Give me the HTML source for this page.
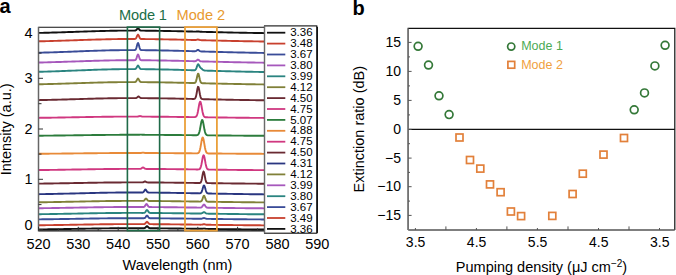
<!DOCTYPE html>
<html><head><meta charset="utf-8"><style>html,body{margin:0;padding:0;background:#fff;width:676px;height:275px;overflow:hidden;position:relative}</style></head>
<body>
<svg width="676" height="275" viewBox="0 0 676 275" style="position:absolute;left:0;top:0">
<rect width="676" height="275" fill="#fff"/>
<g font-family='"Liberation Sans", sans-serif'>
<text x="-0.6" y="12.9" font-size="20" font-weight="bold">a</text>
<text x="352.4" y="14.6" font-size="20" font-weight="bold">b</text>
<g fill="none" stroke-width="1.9" stroke-linejoin="round">
<path d="M38.5 32.92 L40.5 32.88 L42.5 32.83 L44.5 32.78 L46.5 32.73 L48.5 32.68 L50.5 32.62 L52.5 32.57 L54.5 32.51 L56.5 32.45 L58.5 32.39 L60.5 32.33 L62.5 32.27 L64.5 32.20 L66.5 32.14 L68.5 32.07 L70.5 32.00 L72.5 31.93 L74.5 31.86 L76.5 31.80 L78.5 31.73 L80.5 31.66 L82.5 31.59 L84.5 31.52 L86.5 31.46 L88.5 31.39 L90.5 31.33 L92.5 31.26 L94.5 31.20 L96.5 31.14 L98.5 31.09 L100.5 31.03 L102.5 30.98 L104.5 30.93 L106.5 30.88 L108.5 30.84 L110.5 30.80 L112.5 30.76 L114.5 30.73 L116.5 30.70 L118.5 30.67 L120.5 30.65 L122.5 30.63 L124.5 30.62 L126.5 30.61 L128.5 30.60 L130.5 30.60 L132.5 30.60 L133.0 30.60 L133.5 30.60 L134.0 30.60 L134.5 30.60 L135.0 30.57 L135.5 30.48 L136.0 30.25 L136.5 29.82 L137.0 29.22 L137.5 28.65 L138.0 28.42 L138.5 28.66 L139.0 29.23 L139.5 29.83 L140.0 30.27 L140.5 30.50 L141.0 30.60 L141.5 30.63 L142.0 30.64 L142.5 30.65 L143.0 30.65 L143.5 30.65 L144.0 30.66 L146.0 30.68 L148.0 30.70 L150.0 30.72 L152.0 30.74 L154.0 30.77 L156.0 30.80 L158.0 30.83 L160.0 30.86 L162.0 30.89 L164.0 30.93 L166.0 30.96 L168.0 31.00 L170.0 31.04 L172.0 31.09 L174.0 31.13 L176.0 31.17 L178.0 31.22 L180.0 31.26 L182.0 31.31 L184.0 31.36 L186.0 31.41 L188.0 31.46 L190.0 31.51 L190.5 31.52 L191.0 31.53 L191.5 31.54 L192.0 31.56 L192.5 31.57 L193.0 31.58 L193.5 31.60 L194.0 31.61 L194.5 31.62 L195.0 31.63 L195.5 31.62 L196.0 31.60 L196.5 31.55 L197.0 31.49 L197.5 31.43 L198.0 31.41 L198.5 31.45 L199.0 31.54 L199.5 31.63 L200.0 31.70 L200.5 31.75 L201.0 31.78 L201.5 31.80 L202.0 31.81 L202.5 31.83 L203.0 31.84 L203.5 31.85 L204.0 31.86 L204.5 31.88 L205.0 31.89 L205.5 31.90 L206.0 31.92 L206.5 31.93 L207.0 31.94 L207.5 31.95 L208.0 31.97 L210.0 32.02 L212.0 32.07 L214.0 32.12 L216.0 32.17 L218.0 32.22 L220.0 32.27 L222.0 32.31 L224.0 32.36 L226.0 32.41 L228.0 32.45 L230.0 32.50 L232.0 32.54 L234.0 32.58 L236.0 32.62 L238.0 32.67 L240.0 32.71 L242.0 32.74 L244.0 32.78 L246.0 32.82 L248.0 32.85 L250.0 32.89 L252.0 32.92 L254.0 32.96 L256.0 32.99 L258.0 33.02 L260.0 33.05 L262.0 33.07 L264.0 33.10 L266.0 33.13 L268.0 33.15 L270.0 33.18 L272.0 33.20 L274.0 33.22 L276.0 33.24 L278.0 33.26 L280.0 33.28 L282.0 33.30 L284.0 33.32 L286.0 33.34 L288.0 33.35 L290.0 33.37 L292.0 33.38 L294.0 33.40 L296.0 33.41 L298.0 33.42 L300.0 33.43 L302.0 33.44 L304.0 33.45 L306.0 33.46 L308.0 33.47 L310.0 33.48 L312.0 33.49 L314.0 33.50 L316.0 33.51" stroke="#111111"/>
<path d="M38.5 41.32 L40.5 41.28 L42.5 41.23 L44.5 41.18 L46.5 41.13 L48.5 41.08 L50.5 41.02 L52.5 40.97 L54.5 40.91 L56.5 40.85 L58.5 40.79 L60.5 40.73 L62.5 40.67 L64.5 40.60 L66.5 40.54 L68.5 40.47 L70.5 40.40 L72.5 40.33 L74.5 40.26 L76.5 40.20 L78.5 40.13 L80.5 40.06 L82.5 39.99 L84.5 39.92 L86.5 39.86 L88.5 39.79 L90.5 39.73 L92.5 39.66 L94.5 39.60 L96.5 39.54 L98.5 39.49 L100.5 39.43 L102.5 39.38 L104.5 39.33 L106.5 39.28 L108.5 39.24 L110.5 39.20 L112.5 39.16 L114.5 39.13 L116.5 39.10 L118.5 39.07 L120.5 39.05 L122.5 39.03 L124.5 39.02 L126.5 39.01 L128.5 39.00 L130.5 39.00 L132.5 39.00 L133.0 39.00 L133.5 39.00 L134.0 39.00 L134.5 38.99 L135.0 38.93 L135.5 38.75 L136.0 38.29 L136.5 37.43 L137.0 36.22 L137.5 35.09 L138.0 34.62 L138.5 35.09 L139.0 36.23 L139.5 37.44 L140.0 38.31 L140.5 38.77 L141.0 38.96 L141.5 39.02 L142.0 39.04 L142.5 39.05 L143.0 39.05 L143.5 39.05 L144.0 39.06 L146.0 39.08 L148.0 39.10 L150.0 39.12 L152.0 39.14 L154.0 39.17 L156.0 39.20 L158.0 39.23 L160.0 39.26 L162.0 39.29 L164.0 39.33 L166.0 39.36 L168.0 39.40 L170.0 39.44 L172.0 39.49 L174.0 39.53 L176.0 39.57 L178.0 39.62 L180.0 39.66 L182.0 39.71 L184.0 39.76 L186.0 39.81 L188.0 39.86 L190.0 39.91 L190.5 39.92 L191.0 39.93 L191.5 39.94 L192.0 39.96 L192.5 39.97 L193.0 39.98 L193.5 40.00 L194.0 40.01 L194.5 40.02 L195.0 40.02 L195.5 40.00 L196.0 39.94 L196.5 39.84 L197.0 39.69 L197.5 39.56 L198.0 39.51 L198.5 39.58 L199.0 39.74 L199.5 39.91 L200.0 40.05 L200.5 40.13 L201.0 40.17 L201.5 40.20 L202.0 40.21 L202.5 40.23 L203.0 40.24 L203.5 40.25 L204.0 40.26 L204.5 40.28 L205.0 40.29 L205.5 40.30 L206.0 40.32 L206.5 40.33 L207.0 40.34 L207.5 40.35 L208.0 40.37 L210.0 40.42 L212.0 40.47 L214.0 40.52 L216.0 40.57 L218.0 40.62 L220.0 40.67 L222.0 40.71 L224.0 40.76 L226.0 40.81 L228.0 40.85 L230.0 40.90 L232.0 40.94 L234.0 40.98 L236.0 41.02 L238.0 41.07 L240.0 41.11 L242.0 41.14 L244.0 41.18 L246.0 41.22 L248.0 41.25 L250.0 41.29 L252.0 41.32 L254.0 41.36 L256.0 41.39 L258.0 41.42 L260.0 41.45 L262.0 41.47 L264.0 41.50 L266.0 41.53 L268.0 41.55 L270.0 41.58 L272.0 41.60 L274.0 41.62 L276.0 41.64 L278.0 41.66 L280.0 41.68 L282.0 41.70 L284.0 41.72 L286.0 41.74 L288.0 41.75 L290.0 41.77 L292.0 41.78 L294.0 41.80 L296.0 41.81 L298.0 41.82 L300.0 41.83 L302.0 41.84 L304.0 41.85 L306.0 41.86 L308.0 41.87 L310.0 41.88 L312.0 41.89 L314.0 41.90 L316.0 41.91" stroke="#c8402e"/>
<path d="M38.5 52.73 L40.5 52.68 L42.5 52.63 L44.5 52.57 L46.5 52.52 L48.5 52.46 L50.5 52.39 L52.5 52.33 L54.5 52.27 L56.5 52.20 L58.5 52.13 L60.5 52.06 L62.5 51.99 L64.5 51.91 L66.5 51.84 L68.5 51.76 L70.5 51.69 L72.5 51.61 L74.5 51.53 L76.5 51.46 L78.5 51.38 L80.5 51.30 L82.5 51.22 L84.5 51.15 L86.5 51.07 L88.5 51.00 L90.5 50.92 L92.5 50.85 L94.5 50.78 L96.5 50.71 L98.5 50.65 L100.5 50.59 L102.5 50.53 L104.5 50.47 L106.5 50.42 L108.5 50.37 L110.5 50.32 L112.5 50.28 L114.5 50.24 L116.5 50.21 L118.5 50.18 L120.5 50.15 L122.5 50.13 L124.5 50.12 L126.5 50.11 L128.5 50.10 L130.5 50.10 L132.5 50.10 L133.0 50.10 L133.5 50.10 L134.0 50.10 L134.5 50.08 L135.0 49.99 L135.5 49.69 L136.0 48.94 L136.5 47.52 L137.0 45.54 L137.5 43.69 L138.0 42.92 L138.5 43.70 L139.0 45.55 L139.5 47.54 L140.0 48.96 L140.5 49.71 L141.0 50.02 L141.5 50.12 L142.0 50.14 L142.5 50.15 L143.0 50.16 L143.5 50.16 L144.0 50.17 L146.0 50.19 L148.0 50.21 L150.0 50.23 L152.0 50.26 L154.0 50.29 L156.0 50.32 L158.0 50.36 L160.0 50.39 L162.0 50.43 L164.0 50.47 L166.0 50.51 L168.0 50.56 L170.0 50.60 L172.0 50.65 L174.0 50.70 L176.0 50.75 L178.0 50.80 L180.0 50.85 L182.0 50.91 L184.0 50.96 L186.0 51.02 L188.0 51.07 L190.0 51.13 L190.5 51.14 L191.0 51.16 L191.5 51.17 L192.0 51.19 L192.5 51.20 L193.0 51.21 L193.5 51.23 L194.0 51.24 L194.5 51.25 L195.0 51.24 L195.5 51.17 L196.0 51.01 L196.5 50.72 L197.0 50.34 L197.5 49.99 L198.0 49.86 L198.5 50.02 L199.0 50.40 L199.5 50.81 L200.0 51.13 L200.5 51.32 L201.0 51.41 L201.5 51.45 L202.0 51.47 L202.5 51.49 L203.0 51.50 L203.5 51.52 L204.0 51.53 L204.5 51.55 L205.0 51.56 L205.5 51.58 L206.0 51.59 L206.5 51.61 L207.0 51.62 L207.5 51.64 L208.0 51.65 L210.0 51.71 L212.0 51.76 L214.0 51.82 L216.0 51.88 L218.0 51.93 L220.0 51.99 L222.0 52.04 L224.0 52.09 L226.0 52.15 L228.0 52.20 L230.0 52.25 L232.0 52.30 L234.0 52.35 L236.0 52.39 L238.0 52.44 L240.0 52.49 L242.0 52.53 L244.0 52.57 L246.0 52.61 L248.0 52.66 L250.0 52.69 L252.0 52.73 L254.0 52.77 L256.0 52.80 L258.0 52.84 L260.0 52.87 L262.0 52.90 L264.0 52.94 L266.0 52.97 L268.0 52.99 L270.0 53.02 L272.0 53.05 L274.0 53.07 L276.0 53.10 L278.0 53.12 L280.0 53.14 L282.0 53.16 L284.0 53.18 L286.0 53.20 L288.0 53.22 L290.0 53.24 L292.0 53.25 L294.0 53.27 L296.0 53.28 L298.0 53.30 L300.0 53.31 L302.0 53.32 L304.0 53.34 L306.0 53.35 L308.0 53.36 L310.0 53.37 L312.0 53.38 L314.0 53.38 L316.0 53.39" stroke="#3a4c98"/>
<path d="M38.5 62.52 L40.5 62.48 L42.5 62.43 L44.5 62.38 L46.5 62.33 L48.5 62.28 L50.5 62.22 L52.5 62.17 L54.5 62.11 L56.5 62.05 L58.5 61.99 L60.5 61.93 L62.5 61.87 L64.5 61.80 L66.5 61.74 L68.5 61.67 L70.5 61.60 L72.5 61.53 L74.5 61.46 L76.5 61.40 L78.5 61.33 L80.5 61.26 L82.5 61.19 L84.5 61.12 L86.5 61.06 L88.5 60.99 L90.5 60.93 L92.5 60.86 L94.5 60.80 L96.5 60.74 L98.5 60.69 L100.5 60.63 L102.5 60.58 L104.5 60.53 L106.5 60.48 L108.5 60.44 L110.5 60.40 L112.5 60.36 L114.5 60.33 L116.5 60.30 L118.5 60.27 L120.5 60.25 L122.5 60.23 L124.5 60.22 L126.5 60.21 L128.5 60.20 L130.5 60.20 L132.5 60.20 L133.0 60.20 L133.5 60.20 L134.0 60.20 L134.5 60.18 L135.0 60.11 L135.5 59.87 L136.0 59.27 L136.5 58.12 L137.0 56.53 L137.5 55.04 L138.0 54.42 L138.5 55.04 L139.0 56.54 L139.5 58.14 L140.0 59.28 L140.5 59.89 L141.0 60.14 L141.5 60.22 L142.0 60.24 L142.5 60.25 L143.0 60.25 L143.5 60.25 L144.0 60.26 L146.0 60.28 L148.0 60.30 L150.0 60.32 L152.0 60.34 L154.0 60.37 L156.0 60.40 L158.0 60.43 L160.0 60.46 L162.0 60.49 L164.0 60.53 L166.0 60.56 L168.0 60.60 L170.0 60.64 L172.0 60.69 L174.0 60.73 L176.0 60.77 L178.0 60.82 L180.0 60.86 L182.0 60.91 L184.0 60.96 L186.0 61.01 L188.0 61.06 L190.0 61.11 L190.5 61.12 L191.0 61.13 L191.5 61.14 L192.0 61.16 L192.5 61.17 L193.0 61.18 L193.5 61.20 L194.0 61.21 L194.5 61.21 L195.0 61.19 L195.5 61.12 L196.0 60.93 L196.5 60.60 L197.0 60.16 L197.5 59.76 L198.0 59.61 L198.5 59.79 L199.0 60.21 L199.5 60.68 L200.0 61.04 L200.5 61.25 L201.0 61.35 L201.5 61.39 L202.0 61.41 L202.5 61.43 L203.0 61.44 L203.5 61.45 L204.0 61.46 L204.5 61.48 L205.0 61.49 L205.5 61.50 L206.0 61.52 L206.5 61.53 L207.0 61.54 L207.5 61.55 L208.0 61.57 L210.0 61.62 L212.0 61.67 L214.0 61.72 L216.0 61.77 L218.0 61.82 L220.0 61.87 L222.0 61.91 L224.0 61.96 L226.0 62.01 L228.0 62.05 L230.0 62.10 L232.0 62.14 L234.0 62.18 L236.0 62.22 L238.0 62.27 L240.0 62.31 L242.0 62.34 L244.0 62.38 L246.0 62.42 L248.0 62.45 L250.0 62.49 L252.0 62.52 L254.0 62.56 L256.0 62.59 L258.0 62.62 L260.0 62.65 L262.0 62.67 L264.0 62.70 L266.0 62.73 L268.0 62.75 L270.0 62.78 L272.0 62.80 L274.0 62.82 L276.0 62.84 L278.0 62.86 L280.0 62.88 L282.0 62.90 L284.0 62.92 L286.0 62.94 L288.0 62.95 L290.0 62.97 L292.0 62.98 L294.0 63.00 L296.0 63.01 L298.0 63.02 L300.0 63.03 L302.0 63.04 L304.0 63.05 L306.0 63.06 L308.0 63.07 L310.0 63.08 L312.0 63.09 L314.0 63.10 L316.0 63.11" stroke="#a658bc"/>
<path d="M38.5 71.81 L40.5 71.76 L42.5 71.70 L44.5 71.65 L46.5 71.59 L48.5 71.53 L50.5 71.46 L52.5 71.40 L54.5 71.33 L56.5 71.26 L58.5 71.19 L60.5 71.12 L62.5 71.04 L64.5 70.97 L66.5 70.89 L68.5 70.81 L70.5 70.73 L72.5 70.66 L74.5 70.58 L76.5 70.50 L78.5 70.42 L80.5 70.34 L82.5 70.26 L84.5 70.18 L86.5 70.10 L88.5 70.02 L90.5 69.95 L92.5 69.87 L94.5 69.80 L96.5 69.73 L98.5 69.67 L100.5 69.60 L102.5 69.54 L104.5 69.48 L106.5 69.43 L108.5 69.38 L110.5 69.33 L112.5 69.29 L114.5 69.25 L116.5 69.21 L118.5 69.18 L120.5 69.16 L122.5 69.13 L124.5 69.12 L126.5 69.11 L128.5 69.10 L130.5 69.10 L132.5 69.10 L133.0 69.10 L133.5 69.10 L134.0 69.10 L134.5 69.09 L135.0 69.05 L135.5 68.90 L136.0 68.53 L136.5 67.82 L137.0 66.83 L137.5 65.91 L138.0 65.52 L138.5 65.91 L139.0 66.84 L139.5 67.83 L140.0 68.55 L140.5 68.93 L141.0 69.08 L141.5 69.13 L142.0 69.15 L142.5 69.15 L143.0 69.16 L143.5 69.16 L144.0 69.17 L146.0 69.19 L148.0 69.21 L150.0 69.24 L152.0 69.27 L154.0 69.30 L156.0 69.33 L158.0 69.36 L160.0 69.40 L162.0 69.44 L164.0 69.48 L166.0 69.53 L168.0 69.57 L170.0 69.62 L172.0 69.67 L174.0 69.72 L176.0 69.77 L178.0 69.82 L180.0 69.87 L182.0 69.93 L184.0 69.99 L186.0 70.04 L188.0 70.10 L190.0 70.16 L190.5 70.17 L191.0 70.19 L191.5 70.20 L192.0 70.22 L192.5 70.23 L193.0 70.25 L193.5 70.26 L194.0 70.26 L194.5 70.24 L195.0 70.11 L195.5 69.78 L196.0 69.07 L196.5 67.88 L197.0 66.35 L197.5 64.95 L198.0 64.21 L198.5 64.39 L199.0 65.25 L199.5 66.31 L200.0 67.17 L200.5 67.75 L201.0 68.17 L201.5 68.57 L202.0 69.00 L202.5 69.44 L203.0 69.83 L203.5 70.14 L204.0 70.35 L204.5 70.48 L205.0 70.56 L205.5 70.60 L206.0 70.63 L206.5 70.65 L207.0 70.66 L207.5 70.68 L208.0 70.70 L210.0 70.75 L212.0 70.81 L214.0 70.87 L216.0 70.93 L218.0 70.99 L220.0 71.04 L222.0 71.10 L224.0 71.15 L226.0 71.21 L228.0 71.26 L230.0 71.31 L232.0 71.36 L234.0 71.41 L236.0 71.46 L238.0 71.51 L240.0 71.56 L242.0 71.60 L244.0 71.65 L246.0 71.69 L248.0 71.73 L250.0 71.77 L252.0 71.81 L254.0 71.85 L256.0 71.88 L258.0 71.92 L260.0 71.95 L262.0 71.99 L264.0 72.02 L266.0 72.05 L268.0 72.08 L270.0 72.11 L272.0 72.13 L274.0 72.16 L276.0 72.18 L278.0 72.21 L280.0 72.23 L282.0 72.25 L284.0 72.27 L286.0 72.29 L288.0 72.31 L290.0 72.33 L292.0 72.35 L294.0 72.36 L296.0 72.38 L298.0 72.39 L300.0 72.41 L302.0 72.42 L304.0 72.43 L306.0 72.44 L308.0 72.45 L310.0 72.46 L312.0 72.47 L314.0 72.48 L316.0 72.49" stroke="#2a8480"/>
<path d="M38.5 84.27 L40.5 84.23 L42.5 84.18 L44.5 84.14 L46.5 84.09 L48.5 84.04 L50.5 83.99 L52.5 83.94 L54.5 83.88 L56.5 83.83 L58.5 83.77 L60.5 83.71 L62.5 83.65 L64.5 83.59 L66.5 83.53 L68.5 83.47 L70.5 83.41 L72.5 83.34 L74.5 83.28 L76.5 83.22 L78.5 83.15 L80.5 83.09 L82.5 83.03 L84.5 82.96 L86.5 82.90 L88.5 82.84 L90.5 82.78 L92.5 82.72 L94.5 82.66 L96.5 82.61 L98.5 82.55 L100.5 82.50 L102.5 82.45 L104.5 82.41 L106.5 82.36 L108.5 82.32 L110.5 82.28 L112.5 82.25 L114.5 82.22 L116.5 82.19 L118.5 82.17 L120.5 82.14 L122.5 82.13 L124.5 82.12 L126.5 82.11 L128.5 82.10 L130.5 82.10 L132.5 82.10 L133.0 82.10 L133.5 82.10 L134.0 82.10 L134.5 82.09 L135.0 82.05 L135.5 81.90 L136.0 81.52 L136.5 80.81 L137.0 79.83 L137.5 78.90 L138.0 78.52 L138.5 78.91 L139.0 79.84 L139.5 80.83 L140.0 81.54 L140.5 81.92 L141.0 82.07 L141.5 82.12 L142.0 82.14 L142.5 82.14 L143.0 82.15 L143.5 82.15 L144.0 82.15 L146.0 82.17 L148.0 82.19 L150.0 82.21 L152.0 82.23 L154.0 82.26 L156.0 82.28 L158.0 82.31 L160.0 82.34 L162.0 82.37 L164.0 82.41 L166.0 82.44 L168.0 82.48 L170.0 82.51 L172.0 82.55 L174.0 82.59 L176.0 82.63 L178.0 82.68 L180.0 82.72 L182.0 82.76 L184.0 82.81 L186.0 82.85 L188.0 82.90 L190.0 82.95 L190.5 82.96 L191.0 82.97 L191.5 82.98 L192.0 82.99 L192.5 83.01 L193.0 83.02 L193.5 83.02 L194.0 83.02 L194.5 82.97 L195.0 82.79 L195.5 82.31 L196.0 81.30 L196.5 79.58 L197.0 77.29 L197.5 75.03 L198.0 73.67 L198.5 73.84 L199.0 75.47 L199.5 77.83 L200.0 80.07 L200.5 81.67 L201.0 82.58 L201.5 83.00 L202.0 83.17 L202.5 83.23 L203.0 83.25 L203.5 83.27 L204.0 83.28 L204.5 83.29 L205.0 83.30 L205.5 83.32 L206.0 83.33 L206.5 83.34 L207.0 83.35 L207.5 83.36 L208.0 83.38 L208.5 83.39 L210.5 83.44 L212.5 83.48 L214.5 83.53 L216.5 83.58 L218.5 83.62 L220.5 83.67 L222.5 83.71 L224.5 83.75 L226.5 83.80 L228.5 83.84 L230.5 83.88 L232.5 83.92 L234.5 83.96 L236.5 84.00 L238.5 84.04 L240.5 84.07 L242.5 84.11 L244.5 84.15 L246.5 84.18 L248.5 84.21 L250.5 84.24 L252.5 84.28 L254.5 84.31 L256.5 84.33 L258.5 84.36 L260.5 84.39 L262.5 84.42 L264.5 84.44 L266.5 84.47 L268.5 84.49 L270.5 84.51 L272.5 84.53 L274.5 84.55 L276.5 84.57 L278.5 84.59 L280.5 84.61 L282.5 84.63 L284.5 84.64 L286.5 84.66 L288.5 84.67 L290.5 84.69 L292.5 84.70 L294.5 84.71 L296.5 84.72 L298.5 84.74 L300.5 84.75 L302.5 84.76 L304.5 84.77 L306.5 84.78 L308.5 84.78 L310.5 84.79 L312.5 84.80 L314.5 84.81 L316.5 84.81" stroke="#808038"/>
<path d="M38.5 100.11 L40.5 100.07 L42.5 100.03 L44.5 99.99 L46.5 99.95 L48.5 99.90 L50.5 99.85 L52.5 99.81 L54.5 99.76 L56.5 99.70 L58.5 99.65 L60.5 99.60 L62.5 99.54 L64.5 99.49 L66.5 99.43 L68.5 99.37 L70.5 99.31 L72.5 99.26 L74.5 99.20 L76.5 99.14 L78.5 99.08 L80.5 99.02 L82.5 98.96 L84.5 98.90 L86.5 98.84 L88.5 98.79 L90.5 98.73 L92.5 98.68 L94.5 98.62 L96.5 98.57 L98.5 98.52 L100.5 98.47 L102.5 98.43 L104.5 98.38 L106.5 98.34 L108.5 98.31 L110.5 98.27 L112.5 98.24 L114.5 98.21 L116.5 98.18 L118.5 98.16 L120.5 98.14 L122.5 98.13 L124.5 98.11 L126.5 98.11 L128.5 98.10 L130.5 98.10 L132.5 98.10 L134.5 98.10 L135.0 98.10 L135.5 98.08 L136.0 98.02 L136.5 97.85 L137.0 97.54 L137.5 97.10 L138.0 96.69 L138.5 96.52 L139.0 96.69 L139.5 97.11 L140.0 97.55 L140.5 97.87 L141.0 98.04 L141.5 98.11 L142.0 98.13 L142.5 98.14 L143.0 98.14 L143.5 98.15 L144.0 98.15 L144.5 98.15 L146.5 98.17 L148.5 98.19 L150.5 98.21 L152.5 98.23 L154.5 98.25 L156.5 98.28 L158.5 98.30 L160.5 98.33 L162.5 98.36 L164.5 98.39 L166.5 98.42 L168.5 98.46 L170.5 98.49 L172.5 98.53 L174.5 98.57 L176.5 98.61 L178.5 98.64 L180.5 98.69 L182.5 98.73 L184.5 98.77 L186.5 98.81 L188.5 98.85 L189.0 98.86 L189.5 98.88 L190.0 98.89 L190.5 98.90 L191.0 98.91 L191.5 98.92 L192.0 98.93 L192.5 98.94 L193.0 98.95 L193.5 98.95 L194.0 98.93 L194.5 98.83 L195.0 98.53 L195.5 97.80 L196.0 96.38 L196.5 94.11 L197.0 91.22 L197.5 88.45 L198.0 86.82 L198.5 87.03 L199.0 88.98 L199.5 91.88 L200.0 94.71 L200.5 96.84 L201.0 98.12 L201.5 98.76 L202.0 99.03 L202.5 99.13 L203.0 99.17 L203.5 99.18 L204.0 99.20 L204.5 99.21 L205.0 99.22 L205.5 99.23 L206.0 99.24 L206.5 99.25 L207.0 99.26 L207.5 99.27 L208.0 99.29 L208.5 99.30 L210.5 99.34 L212.5 99.38 L214.5 99.43 L216.5 99.47 L218.5 99.51 L220.5 99.55 L222.5 99.59 L224.5 99.64 L226.5 99.68 L228.5 99.71 L230.5 99.75 L232.5 99.79 L234.5 99.83 L236.5 99.86 L238.5 99.90 L240.5 99.93 L242.5 99.97 L244.5 100.00 L246.5 100.03 L248.5 100.06 L250.5 100.09 L252.5 100.12 L254.5 100.15 L256.5 100.18 L258.5 100.20 L260.5 100.23 L262.5 100.25 L264.5 100.27 L266.5 100.30 L268.5 100.32 L270.5 100.34 L272.5 100.36 L274.5 100.38 L276.5 100.40 L278.5 100.41 L280.5 100.43 L282.5 100.45 L284.5 100.46 L286.5 100.48 L288.5 100.49 L290.5 100.50 L292.5 100.51 L294.5 100.53 L296.5 100.54 L298.5 100.55 L300.5 100.56 L302.5 100.57 L304.5 100.58 L306.5 100.58 L308.5 100.59 L310.5 100.60 L312.5 100.61 L314.5 100.61 L316.5 100.62" stroke="#6a2a32"/>
<path d="M38.5 117.84 L40.5 117.81 L42.5 117.79 L44.5 117.76 L46.5 117.74 L48.5 117.71 L50.5 117.68 L52.5 117.65 L54.5 117.62 L56.5 117.59 L58.5 117.56 L60.5 117.52 L62.5 117.49 L64.5 117.45 L66.5 117.42 L68.5 117.38 L70.5 117.35 L72.5 117.31 L74.5 117.27 L76.5 117.24 L78.5 117.20 L80.5 117.16 L82.5 117.13 L84.5 117.09 L86.5 117.06 L88.5 117.02 L90.5 116.99 L92.5 116.95 L94.5 116.92 L96.5 116.89 L98.5 116.86 L100.5 116.83 L102.5 116.80 L104.5 116.77 L106.5 116.75 L108.5 116.73 L110.5 116.70 L112.5 116.68 L114.5 116.67 L116.5 116.65 L118.5 116.64 L120.5 116.63 L122.5 116.62 L124.5 116.61 L126.5 116.60 L128.5 116.60 L130.5 116.60 L132.5 116.60 L134.5 116.60 L135.0 116.60 L135.5 116.60 L136.0 116.61 L136.5 116.60 L137.0 116.60 L137.5 116.57 L138.0 116.51 L138.5 116.40 L139.0 116.23 L139.5 116.08 L140.0 116.02 L140.5 116.08 L141.0 116.24 L141.5 116.40 L142.0 116.53 L142.5 116.59 L143.0 116.62 L143.5 116.63 L144.0 116.63 L144.5 116.63 L145.0 116.64 L145.5 116.64 L146.0 116.64 L148.0 116.65 L150.0 116.66 L152.0 116.68 L154.0 116.69 L156.0 116.70 L158.0 116.72 L160.0 116.74 L162.0 116.76 L164.0 116.77 L166.0 116.79 L168.0 116.82 L170.0 116.84 L172.0 116.86 L174.0 116.88 L176.0 116.91 L178.0 116.93 L180.0 116.95 L182.0 116.98 L184.0 117.00 L186.0 117.03 L188.0 117.06 L190.0 117.08 L192.0 117.11 L192.5 117.12 L193.0 117.12 L193.5 117.13 L194.0 117.13 L194.5 117.12 L195.0 117.07 L195.5 116.95 L196.0 116.67 L196.5 116.10 L197.0 115.07 L197.5 113.43 L198.0 111.13 L198.5 108.33 L199.0 105.43 L199.5 103.04 L200.0 101.74 L200.5 101.90 L201.0 103.47 L201.5 106.03 L202.0 108.96 L202.5 111.70 L203.0 113.89 L203.5 115.41 L204.0 116.35 L204.5 116.86 L205.0 117.12 L205.5 117.23 L206.0 117.28 L206.5 117.30 L207.0 117.31 L207.5 117.32 L208.0 117.33 L208.5 117.34 L209.0 117.34 L209.5 117.35 L210.0 117.36 L210.5 117.36 L212.5 117.39 L214.5 117.42 L216.5 117.44 L218.5 117.47 L220.5 117.49 L222.5 117.52 L224.5 117.54 L226.5 117.57 L228.5 117.59 L230.5 117.62 L232.5 117.64 L234.5 117.66 L236.5 117.69 L238.5 117.71 L240.5 117.73 L242.5 117.75 L244.5 117.77 L246.5 117.79 L248.5 117.81 L250.5 117.83 L252.5 117.84 L254.5 117.86 L256.5 117.88 L258.5 117.89 L260.5 117.91 L262.5 117.92 L264.5 117.94 L266.5 117.95 L268.5 117.97 L270.5 117.98 L272.5 117.99 L274.5 118.00 L276.5 118.01 L278.5 118.02 L280.5 118.03 L282.5 118.04 L284.5 118.05 L286.5 118.06 L288.5 118.07 L290.5 118.08 L292.5 118.09 L294.5 118.09 L296.5 118.10 L298.5 118.11 L300.5 118.11 L302.5 118.12 L304.5 118.12 L306.5 118.13 L308.5 118.13 L310.5 118.14 L312.5 118.14 L314.5 118.15 L316.5 118.15" stroke="#d03880"/>
<path d="M38.5 135.73 L40.5 135.71 L42.5 135.69 L44.5 135.67 L46.5 135.65 L48.5 135.63 L50.5 135.61 L52.5 135.59 L54.5 135.56 L56.5 135.54 L58.5 135.52 L60.5 135.49 L62.5 135.47 L64.5 135.44 L66.5 135.41 L68.5 135.39 L70.5 135.36 L72.5 135.33 L74.5 135.31 L76.5 135.28 L78.5 135.25 L80.5 135.22 L82.5 135.20 L84.5 135.17 L86.5 135.14 L88.5 135.12 L90.5 135.09 L92.5 135.07 L94.5 135.04 L96.5 135.02 L98.5 134.99 L100.5 134.97 L102.5 134.95 L104.5 134.93 L106.5 134.91 L108.5 134.89 L110.5 134.88 L112.5 134.86 L114.5 134.85 L116.5 134.84 L118.5 134.83 L120.5 134.82 L122.5 134.81 L124.5 134.81 L126.5 134.80 L128.5 134.80 L130.5 134.80 L132.5 134.80 L134.5 134.80 L136.5 134.81 L137.0 134.81 L137.5 134.81 L138.0 134.80 L138.5 134.80 L139.0 134.78 L139.5 134.74 L140.0 134.68 L140.5 134.63 L141.0 134.61 L141.5 134.64 L142.0 134.69 L142.5 134.75 L143.0 134.79 L143.5 134.81 L144.0 134.82 L144.5 134.82 L145.0 134.83 L145.5 134.83 L146.0 134.83 L146.5 134.83 L147.0 134.83 L149.0 134.84 L151.0 134.85 L153.0 134.86 L155.0 134.87 L157.0 134.88 L159.0 134.90 L161.0 134.91 L163.0 134.92 L165.0 134.94 L167.0 134.95 L169.0 134.97 L171.0 134.99 L173.0 135.00 L175.0 135.02 L177.0 135.04 L179.0 135.06 L181.0 135.07 L183.0 135.09 L185.0 135.11 L187.0 135.13 L189.0 135.15 L191.0 135.17 L193.0 135.19 L193.5 135.20 L194.0 135.20 L194.5 135.21 L195.0 135.21 L195.5 135.22 L196.0 135.22 L196.5 135.20 L197.0 135.16 L197.5 135.03 L198.0 134.75 L198.5 134.19 L199.0 133.17 L199.5 131.55 L200.0 129.28 L200.5 126.51 L201.0 123.65 L201.5 121.29 L202.0 120.01 L202.5 120.16 L203.0 121.71 L203.5 124.23 L204.0 127.13 L204.5 129.83 L205.0 131.99 L205.5 133.49 L206.0 134.41 L206.5 134.92 L207.0 135.17 L207.5 135.28 L208.0 135.33 L208.5 135.35 L209.0 135.36 L209.5 135.36 L210.0 135.37 L210.5 135.37 L211.0 135.38 L211.5 135.38 L212.0 135.39 L212.5 135.39 L214.5 135.41 L216.5 135.43 L218.5 135.45 L220.5 135.47 L222.5 135.49 L224.5 135.51 L226.5 135.53 L228.5 135.55 L230.5 135.56 L232.5 135.58 L234.5 135.60 L236.5 135.61 L238.5 135.63 L240.5 135.65 L242.5 135.66 L244.5 135.68 L246.5 135.69 L248.5 135.71 L250.5 135.72 L252.5 135.73 L254.5 135.75 L256.5 135.76 L258.5 135.77 L260.5 135.78 L262.5 135.79 L264.5 135.80 L266.5 135.81 L268.5 135.82 L270.5 135.83 L272.5 135.84 L274.5 135.85 L276.5 135.86 L278.5 135.87 L280.5 135.88 L282.5 135.88 L284.5 135.89 L286.5 135.90 L288.5 135.90 L290.5 135.91 L292.5 135.91 L294.5 135.92 L296.5 135.92 L298.5 135.93 L300.5 135.93 L302.5 135.94 L304.5 135.94 L306.5 135.95 L308.5 135.95 L310.5 135.95 L312.5 135.96 L314.5 135.96 L316.5 135.96" stroke="#2c7c3c"/>
<path d="M38.5 153.77 L40.5 153.76 L42.5 153.74 L44.5 153.73 L46.5 153.71 L48.5 153.69 L50.5 153.67 L52.5 153.66 L54.5 153.64 L56.5 153.62 L58.5 153.60 L60.5 153.58 L62.5 153.56 L64.5 153.53 L66.5 153.51 L68.5 153.49 L70.5 153.47 L72.5 153.44 L74.5 153.42 L76.5 153.40 L78.5 153.38 L80.5 153.35 L82.5 153.33 L84.5 153.31 L86.5 153.29 L88.5 153.26 L90.5 153.24 L92.5 153.22 L94.5 153.20 L96.5 153.18 L98.5 153.16 L100.5 153.14 L102.5 153.13 L104.5 153.11 L106.5 153.09 L108.5 153.08 L110.5 153.07 L112.5 153.05 L114.5 153.04 L116.5 153.03 L118.5 153.02 L120.5 153.02 L122.5 153.01 L124.5 153.01 L126.5 153.00 L128.5 153.00 L130.5 153.00 L132.5 153.00 L134.5 153.00 L136.5 153.00 L138.5 153.01 L139.0 153.01 L139.5 153.01 L140.0 153.00 L140.5 152.99 L141.0 152.95 L141.5 152.87 L142.0 152.76 L142.5 152.66 L143.0 152.62 L143.5 152.66 L144.0 152.77 L144.5 152.88 L145.0 152.96 L145.5 153.00 L146.0 153.02 L146.5 153.03 L147.0 153.03 L147.5 153.03 L148.0 153.03 L148.5 153.03 L149.0 153.04 L151.0 153.04 L153.0 153.05 L155.0 153.06 L157.0 153.07 L159.0 153.08 L161.0 153.09 L163.0 153.10 L165.0 153.12 L167.0 153.13 L169.0 153.14 L171.0 153.15 L173.0 153.17 L175.0 153.18 L177.0 153.20 L179.0 153.21 L181.0 153.23 L183.0 153.24 L185.0 153.26 L187.0 153.28 L189.0 153.29 L191.0 153.31 L193.0 153.33 L193.5 153.33 L194.0 153.34 L194.5 153.34 L195.0 153.34 L195.5 153.35 L196.0 153.35 L196.5 153.35 L197.0 153.33 L197.5 153.28 L198.0 153.16 L198.5 152.86 L199.0 152.27 L199.5 151.22 L200.0 149.53 L200.5 147.17 L201.0 144.30 L201.5 141.32 L202.0 138.86 L202.5 137.53 L203.0 137.69 L203.5 139.30 L204.0 141.92 L204.5 144.93 L205.0 147.74 L205.5 149.97 L206.0 151.53 L206.5 152.49 L207.0 153.02 L207.5 153.27 L208.0 153.39 L208.5 153.44 L209.0 153.46 L209.5 153.47 L210.0 153.47 L210.5 153.48 L211.0 153.48 L211.5 153.49 L212.0 153.49 L212.5 153.49 L213.0 153.50 L215.0 153.51 L217.0 153.53 L219.0 153.55 L221.0 153.56 L223.0 153.58 L225.0 153.59 L227.0 153.61 L229.0 153.62 L231.0 153.64 L233.0 153.65 L235.0 153.67 L237.0 153.68 L239.0 153.70 L241.0 153.71 L243.0 153.72 L245.0 153.73 L247.0 153.75 L249.0 153.76 L251.0 153.77 L253.0 153.78 L255.0 153.79 L257.0 153.80 L259.0 153.81 L261.0 153.82 L263.0 153.83 L265.0 153.84 L267.0 153.85 L269.0 153.86 L271.0 153.86 L273.0 153.87 L275.0 153.88 L277.0 153.88 L279.0 153.89 L281.0 153.90 L283.0 153.90 L285.0 153.91 L287.0 153.91 L289.0 153.92 L291.0 153.93 L293.0 153.93 L295.0 153.93 L297.0 153.94 L299.0 153.94 L301.0 153.95 L303.0 153.95 L305.0 153.95 L307.0 153.96 L309.0 153.96 L311.0 153.96 L313.0 153.96 L315.0 153.97 L317.0 153.97" stroke="#e88a38"/>
<path d="M38.5 170.06 L40.5 170.04 L42.5 170.02 L44.5 169.99 L46.5 169.97 L48.5 169.94 L50.5 169.91 L52.5 169.88 L54.5 169.86 L56.5 169.83 L58.5 169.80 L60.5 169.76 L62.5 169.73 L64.5 169.70 L66.5 169.67 L68.5 169.63 L70.5 169.60 L72.5 169.57 L74.5 169.53 L76.5 169.50 L78.5 169.46 L80.5 169.43 L82.5 169.40 L84.5 169.36 L86.5 169.33 L88.5 169.30 L90.5 169.26 L92.5 169.23 L94.5 169.20 L96.5 169.17 L98.5 169.14 L100.5 169.12 L102.5 169.09 L104.5 169.06 L106.5 169.04 L108.5 169.02 L110.5 169.00 L112.5 168.98 L114.5 168.96 L116.5 168.95 L118.5 168.93 L120.5 168.92 L122.5 168.91 L124.5 168.91 L126.5 168.90 L128.5 168.90 L130.5 168.90 L132.5 168.90 L134.5 168.90 L136.5 168.91 L138.5 168.91 L139.0 168.91 L139.5 168.91 L140.0 168.89 L140.5 168.83 L141.0 168.67 L141.5 168.38 L142.0 167.97 L142.5 167.58 L143.0 167.43 L143.5 167.59 L144.0 167.98 L144.5 168.39 L145.0 168.69 L145.5 168.85 L146.0 168.91 L146.5 168.93 L147.0 168.94 L147.5 168.95 L148.0 168.95 L148.5 168.95 L149.0 168.95 L151.0 168.96 L153.0 168.98 L155.0 168.99 L157.0 169.01 L159.0 169.02 L161.0 169.04 L163.0 169.05 L165.0 169.07 L167.0 169.09 L169.0 169.11 L171.0 169.13 L173.0 169.15 L175.0 169.17 L177.0 169.20 L179.0 169.22 L181.0 169.24 L183.0 169.27 L185.0 169.29 L187.0 169.32 L189.0 169.34 L191.0 169.37 L193.0 169.39 L195.0 169.42 L195.5 169.42 L196.0 169.43 L196.5 169.44 L197.0 169.44 L197.5 169.45 L198.0 169.44 L198.5 169.42 L199.0 169.34 L199.5 169.13 L200.0 168.68 L200.5 167.80 L201.0 166.31 L201.5 164.13 L202.0 161.41 L202.5 158.58 L203.0 156.32 L203.5 155.26 L204.0 155.73 L204.5 157.59 L205.0 160.29 L205.5 163.14 L206.0 165.58 L206.5 167.36 L207.0 168.48 L207.5 169.09 L208.0 169.39 L208.5 169.52 L209.0 169.57 L209.5 169.60 L210.0 169.61 L210.5 169.62 L211.0 169.62 L211.5 169.63 L212.0 169.63 L212.5 169.64 L213.0 169.65 L213.5 169.65 L214.0 169.66 L216.0 169.68 L218.0 169.71 L220.0 169.73 L222.0 169.76 L224.0 169.78 L226.0 169.80 L228.0 169.83 L230.0 169.85 L232.0 169.87 L234.0 169.89 L236.0 169.91 L238.0 169.93 L240.0 169.95 L242.0 169.97 L244.0 169.99 L246.0 170.01 L248.0 170.03 L250.0 170.04 L252.0 170.06 L254.0 170.08 L256.0 170.09 L258.0 170.11 L260.0 170.12 L262.0 170.14 L264.0 170.15 L266.0 170.16 L268.0 170.18 L270.0 170.19 L272.0 170.20 L274.0 170.21 L276.0 170.22 L278.0 170.23 L280.0 170.24 L282.0 170.25 L284.0 170.26 L286.0 170.27 L288.0 170.28 L290.0 170.28 L292.0 170.29 L294.0 170.30 L296.0 170.30 L298.0 170.31 L300.0 170.32 L302.0 170.32 L304.0 170.33 L306.0 170.33 L308.0 170.34 L310.0 170.34 L312.0 170.35 L314.0 170.35 L316.0 170.35" stroke="#d03880"/>
<path d="M38.5 183.64 L40.5 183.61 L42.5 183.59 L44.5 183.56 L46.5 183.54 L48.5 183.51 L50.5 183.48 L52.5 183.45 L54.5 183.42 L56.5 183.39 L58.5 183.36 L60.5 183.32 L62.5 183.29 L64.5 183.25 L66.5 183.22 L68.5 183.18 L70.5 183.15 L72.5 183.11 L74.5 183.07 L76.5 183.04 L78.5 183.00 L80.5 182.96 L82.5 182.93 L84.5 182.89 L86.5 182.86 L88.5 182.82 L90.5 182.79 L92.5 182.75 L94.5 182.72 L96.5 182.69 L98.5 182.66 L100.5 182.63 L102.5 182.60 L104.5 182.57 L106.5 182.55 L108.5 182.53 L110.5 182.50 L112.5 182.48 L114.5 182.47 L116.5 182.45 L118.5 182.44 L120.5 182.43 L122.5 182.42 L124.5 182.41 L126.5 182.40 L128.5 182.40 L130.5 182.40 L132.5 182.40 L134.5 182.40 L136.5 182.41 L138.5 182.41 L140.5 182.42 L141.0 182.42 L141.5 182.42 L142.0 182.41 L142.5 182.37 L143.0 182.26 L143.5 182.07 L144.0 181.80 L144.5 181.54 L145.0 181.44 L145.5 181.55 L146.0 181.81 L146.5 182.08 L147.0 182.28 L147.5 182.39 L148.0 182.43 L148.5 182.45 L149.0 182.46 L149.5 182.46 L150.0 182.46 L150.5 182.47 L151.0 182.47 L153.0 182.48 L155.0 182.50 L157.0 182.51 L159.0 182.53 L161.0 182.55 L163.0 182.57 L165.0 182.58 L167.0 182.60 L169.0 182.63 L171.0 182.65 L173.0 182.67 L175.0 182.69 L177.0 182.72 L179.0 182.74 L181.0 182.77 L183.0 182.79 L185.0 182.82 L187.0 182.84 L189.0 182.87 L191.0 182.90 L193.0 182.92 L195.0 182.95 L195.5 182.96 L196.0 182.96 L196.5 182.97 L197.0 182.98 L197.5 182.99 L198.0 182.99 L198.5 183.00 L199.0 183.00 L199.5 182.98 L200.0 182.89 L200.5 182.61 L201.0 181.92 L201.5 180.53 L202.0 178.28 L202.5 175.43 L203.0 172.82 L203.5 171.51 L204.0 172.10 L204.5 174.33 L205.0 177.21 L205.5 179.78 L206.0 181.53 L206.5 182.48 L207.0 182.91 L207.5 183.06 L208.0 183.12 L208.5 183.13 L209.0 183.14 L209.5 183.15 L210.0 183.16 L210.5 183.16 L211.0 183.17 L211.5 183.18 L212.0 183.18 L212.5 183.19 L213.0 183.20 L213.5 183.20 L214.0 183.21 L216.0 183.24 L218.0 183.26 L220.0 183.29 L222.0 183.31 L224.0 183.34 L226.0 183.36 L228.0 183.39 L230.0 183.41 L232.0 183.43 L234.0 183.46 L236.0 183.48 L238.0 183.50 L240.0 183.52 L242.0 183.54 L244.0 183.56 L246.0 183.58 L248.0 183.60 L250.0 183.62 L252.0 183.64 L254.0 183.66 L256.0 183.67 L258.0 183.69 L260.0 183.70 L262.0 183.72 L264.0 183.73 L266.0 183.75 L268.0 183.76 L270.0 183.77 L272.0 183.79 L274.0 183.80 L276.0 183.81 L278.0 183.82 L280.0 183.83 L282.0 183.84 L284.0 183.85 L286.0 183.86 L288.0 183.87 L290.0 183.88 L292.0 183.88 L294.0 183.89 L296.0 183.90 L298.0 183.90 L300.0 183.91 L302.0 183.92 L304.0 183.92 L306.0 183.93 L308.0 183.93 L310.0 183.94 L312.0 183.94 L314.0 183.95 L316.0 183.95" stroke="#6a2a32"/>
<path d="M38.5 194.20 L40.5 194.17 L42.5 194.14 L44.5 194.10 L46.5 194.06 L48.5 194.02 L50.5 193.98 L52.5 193.94 L54.5 193.90 L56.5 193.86 L58.5 193.81 L60.5 193.77 L62.5 193.72 L64.5 193.67 L66.5 193.63 L68.5 193.58 L70.5 193.53 L72.5 193.48 L74.5 193.43 L76.5 193.38 L78.5 193.33 L80.5 193.28 L82.5 193.23 L84.5 193.18 L86.5 193.13 L88.5 193.08 L90.5 193.03 L92.5 192.99 L94.5 192.94 L96.5 192.90 L98.5 192.86 L100.5 192.82 L102.5 192.78 L104.5 192.74 L106.5 192.71 L108.5 192.67 L110.5 192.64 L112.5 192.62 L114.5 192.59 L116.5 192.57 L118.5 192.55 L120.5 192.54 L122.5 192.52 L124.5 192.51 L126.5 192.50 L128.5 192.50 L130.5 192.50 L132.5 192.50 L134.5 192.50 L136.5 192.51 L138.5 192.52 L140.5 192.52 L141.0 192.53 L141.5 192.53 L142.0 192.52 L142.5 192.47 L143.0 192.32 L143.5 191.96 L144.0 191.31 L144.5 190.47 L145.0 189.76 L145.5 189.57 L146.0 190.01 L146.5 190.83 L147.0 191.62 L147.5 192.16 L148.0 192.43 L148.5 192.54 L149.0 192.57 L149.5 192.58 L150.0 192.59 L150.5 192.59 L151.0 192.59 L151.5 192.60 L153.5 192.62 L155.5 192.64 L157.5 192.66 L159.5 192.68 L161.5 192.71 L163.5 192.73 L165.5 192.76 L167.5 192.79 L169.5 192.82 L171.5 192.85 L173.5 192.88 L175.5 192.91 L177.5 192.94 L179.5 192.98 L181.5 193.01 L183.5 193.05 L185.5 193.08 L187.5 193.12 L189.5 193.16 L191.5 193.19 L193.5 193.23 L195.5 193.27 L196.0 193.28 L196.5 193.29 L197.0 193.30 L197.5 193.31 L198.0 193.31 L198.5 193.32 L199.0 193.33 L199.5 193.32 L200.0 193.28 L200.5 193.15 L201.0 192.81 L201.5 192.12 L202.0 190.94 L202.5 189.29 L203.0 187.46 L203.5 185.99 L204.0 185.43 L204.5 186.01 L205.0 187.50 L205.5 189.34 L206.0 191.02 L206.5 192.22 L207.0 192.93 L207.5 193.28 L208.0 193.43 L208.5 193.49 L209.0 193.52 L209.5 193.53 L210.0 193.54 L210.5 193.55 L211.0 193.56 L211.5 193.57 L212.0 193.58 L212.5 193.59 L213.0 193.60 L213.5 193.60 L214.0 193.61 L216.0 193.65 L218.0 193.69 L220.0 193.72 L222.0 193.76 L224.0 193.79 L226.0 193.82 L228.0 193.86 L230.0 193.89 L232.0 193.92 L234.0 193.95 L236.0 193.98 L238.0 194.01 L240.0 194.04 L242.0 194.07 L244.0 194.10 L246.0 194.13 L248.0 194.15 L250.0 194.18 L252.0 194.20 L254.0 194.23 L256.0 194.25 L258.0 194.27 L260.0 194.29 L262.0 194.31 L264.0 194.33 L266.0 194.35 L268.0 194.37 L270.0 194.39 L272.0 194.41 L274.0 194.42 L276.0 194.44 L278.0 194.45 L280.0 194.47 L282.0 194.48 L284.0 194.49 L286.0 194.51 L288.0 194.52 L290.0 194.53 L292.0 194.54 L294.0 194.55 L296.0 194.56 L298.0 194.57 L300.0 194.58 L302.0 194.59 L304.0 194.59 L306.0 194.60 L308.0 194.61 L310.0 194.61 L312.0 194.62 L314.0 194.63 L316.0 194.63" stroke="#2a3680"/>
<path d="M38.5 202.29 L40.5 202.27 L42.5 202.24 L44.5 202.21 L46.5 202.18 L48.5 202.15 L50.5 202.11 L52.5 202.08 L54.5 202.05 L56.5 202.01 L58.5 201.97 L60.5 201.94 L62.5 201.90 L64.5 201.86 L66.5 201.82 L68.5 201.78 L70.5 201.74 L72.5 201.70 L74.5 201.66 L76.5 201.62 L78.5 201.58 L80.5 201.54 L82.5 201.49 L84.5 201.45 L86.5 201.41 L88.5 201.37 L90.5 201.34 L92.5 201.30 L94.5 201.26 L96.5 201.23 L98.5 201.19 L100.5 201.16 L102.5 201.13 L104.5 201.10 L106.5 201.07 L108.5 201.04 L110.5 201.02 L112.5 201.00 L114.5 200.98 L116.5 200.96 L118.5 200.94 L120.5 200.93 L122.5 200.92 L124.5 200.91 L126.5 200.90 L128.5 200.90 L130.5 200.90 L132.5 200.90 L134.5 200.90 L136.5 200.91 L138.5 200.91 L140.5 200.92 L141.0 200.92 L141.5 200.92 L142.0 200.92 L142.5 200.92 L143.0 200.89 L143.5 200.79 L144.0 200.54 L144.5 200.07 L145.0 199.42 L145.5 198.80 L146.0 198.55 L146.5 198.81 L147.0 199.43 L147.5 200.09 L148.0 200.57 L148.5 200.82 L149.0 200.92 L149.5 200.96 L150.0 200.97 L150.5 200.97 L151.0 200.98 L151.5 200.98 L152.0 200.99 L154.0 201.00 L156.0 201.02 L158.0 201.04 L160.0 201.05 L162.0 201.08 L164.0 201.10 L166.0 201.12 L168.0 201.14 L170.0 201.17 L172.0 201.19 L174.0 201.22 L176.0 201.24 L178.0 201.27 L180.0 201.30 L182.0 201.33 L184.0 201.36 L186.0 201.38 L188.0 201.41 L190.0 201.44 L192.0 201.47 L194.0 201.50 L196.0 201.54 L196.5 201.54 L197.0 201.55 L197.5 201.56 L198.0 201.57 L198.5 201.57 L199.0 201.58 L199.5 201.58 L200.0 201.57 L200.5 201.52 L201.0 201.35 L201.5 200.95 L202.0 200.16 L202.5 198.93 L203.0 197.47 L203.5 196.24 L204.0 195.76 L204.5 196.26 L205.0 197.51 L205.5 198.98 L206.0 200.22 L206.5 201.02 L207.0 201.45 L207.5 201.63 L208.0 201.70 L208.5 201.72 L209.0 201.73 L209.5 201.74 L210.0 201.75 L210.5 201.76 L211.0 201.77 L211.5 201.77 L212.0 201.78 L212.5 201.79 L213.0 201.80 L213.5 201.80 L214.0 201.81 L216.0 201.84 L218.0 201.87 L220.0 201.90 L222.0 201.93 L224.0 201.96 L226.0 201.98 L228.0 202.01 L230.0 202.04 L232.0 202.06 L234.0 202.09 L236.0 202.11 L238.0 202.14 L240.0 202.16 L242.0 202.19 L244.0 202.21 L246.0 202.23 L248.0 202.25 L250.0 202.27 L252.0 202.29 L254.0 202.31 L256.0 202.33 L258.0 202.35 L260.0 202.37 L262.0 202.38 L264.0 202.40 L266.0 202.42 L268.0 202.43 L270.0 202.45 L272.0 202.46 L274.0 202.47 L276.0 202.49 L278.0 202.50 L280.0 202.51 L282.0 202.52 L284.0 202.53 L286.0 202.54 L288.0 202.55 L290.0 202.56 L292.0 202.57 L294.0 202.58 L296.0 202.59 L298.0 202.59 L300.0 202.60 L302.0 202.61 L304.0 202.61 L306.0 202.62 L308.0 202.62 L310.0 202.63 L312.0 202.63 L314.0 202.64 L316.0 202.64" stroke="#808038"/>
<path d="M38.5 208.24 L40.5 208.21 L42.5 208.19 L44.5 208.16 L46.5 208.14 L48.5 208.11 L50.5 208.08 L52.5 208.05 L54.5 208.02 L56.5 207.99 L58.5 207.96 L60.5 207.92 L62.5 207.89 L64.5 207.85 L66.5 207.82 L68.5 207.78 L70.5 207.75 L72.5 207.71 L74.5 207.67 L76.5 207.64 L78.5 207.60 L80.5 207.56 L82.5 207.53 L84.5 207.49 L86.5 207.46 L88.5 207.42 L90.5 207.39 L92.5 207.35 L94.5 207.32 L96.5 207.29 L98.5 207.26 L100.5 207.23 L102.5 207.20 L104.5 207.17 L106.5 207.15 L108.5 207.13 L110.5 207.10 L112.5 207.08 L114.5 207.07 L116.5 207.05 L118.5 207.04 L120.5 207.03 L122.5 207.02 L124.5 207.01 L126.5 207.00 L128.5 207.00 L130.5 207.00 L132.5 207.00 L134.5 207.00 L136.5 207.01 L138.5 207.01 L140.5 207.02 L142.5 207.02 L143.0 207.02 L143.5 206.98 L144.0 206.85 L144.5 206.54 L145.0 205.95 L145.5 205.13 L146.0 204.36 L146.5 204.04 L147.0 204.37 L147.5 205.14 L148.0 205.97 L148.5 206.56 L149.0 206.88 L149.5 207.01 L150.0 207.05 L150.5 207.06 L151.0 207.07 L151.5 207.07 L152.0 207.08 L152.5 207.08 L154.5 207.09 L156.5 207.11 L158.5 207.12 L160.5 207.14 L162.5 207.16 L164.5 207.18 L166.5 207.20 L168.5 207.22 L170.5 207.24 L172.5 207.26 L174.5 207.29 L176.5 207.31 L178.5 207.34 L180.5 207.36 L182.5 207.39 L184.5 207.41 L186.5 207.44 L188.5 207.46 L190.5 207.49 L192.5 207.52 L194.5 207.54 L195.0 207.55 L195.5 207.56 L196.0 207.56 L196.5 207.57 L197.0 207.58 L197.5 207.59 L198.0 207.59 L198.5 207.60 L199.0 207.61 L199.5 207.61 L200.0 207.61 L200.5 207.58 L201.0 207.49 L201.5 207.28 L202.0 206.85 L202.5 206.19 L203.0 205.40 L203.5 204.73 L204.0 204.47 L204.5 204.75 L205.0 205.43 L205.5 206.23 L206.0 206.90 L206.5 207.34 L207.0 207.58 L207.5 207.68 L208.0 207.72 L208.5 207.73 L209.0 207.74 L209.5 207.75 L210.0 207.76 L210.5 207.76 L211.0 207.77 L211.5 207.78 L212.0 207.78 L212.5 207.79 L213.0 207.80 L213.5 207.80 L214.0 207.81 L216.0 207.84 L218.0 207.86 L220.0 207.89 L222.0 207.91 L224.0 207.94 L226.0 207.96 L228.0 207.99 L230.0 208.01 L232.0 208.03 L234.0 208.06 L236.0 208.08 L238.0 208.10 L240.0 208.12 L242.0 208.14 L244.0 208.16 L246.0 208.18 L248.0 208.20 L250.0 208.22 L252.0 208.24 L254.0 208.26 L256.0 208.27 L258.0 208.29 L260.0 208.30 L262.0 208.32 L264.0 208.33 L266.0 208.35 L268.0 208.36 L270.0 208.37 L272.0 208.39 L274.0 208.40 L276.0 208.41 L278.0 208.42 L280.0 208.43 L282.0 208.44 L284.0 208.45 L286.0 208.46 L288.0 208.47 L290.0 208.48 L292.0 208.48 L294.0 208.49 L296.0 208.50 L298.0 208.50 L300.0 208.51 L302.0 208.52 L304.0 208.52 L306.0 208.53 L308.0 208.53 L310.0 208.54 L312.0 208.54 L314.0 208.55 L316.0 208.55" stroke="#a658bc"/>
<path d="M38.5 214.22 L40.5 214.19 L42.5 214.16 L44.5 214.14 L46.5 214.11 L48.5 214.08 L50.5 214.05 L52.5 214.02 L54.5 213.98 L56.5 213.95 L58.5 213.91 L60.5 213.88 L62.5 213.84 L64.5 213.81 L66.5 213.77 L68.5 213.73 L70.5 213.69 L72.5 213.66 L74.5 213.62 L76.5 213.58 L78.5 213.54 L80.5 213.50 L82.5 213.46 L84.5 213.42 L86.5 213.39 L88.5 213.35 L90.5 213.31 L92.5 213.28 L94.5 213.24 L96.5 213.21 L98.5 213.17 L100.5 213.14 L102.5 213.11 L104.5 213.09 L106.5 213.06 L108.5 213.03 L110.5 213.01 L112.5 212.99 L114.5 212.97 L116.5 212.95 L118.5 212.94 L120.5 212.93 L122.5 212.92 L124.5 212.91 L126.5 212.90 L128.5 212.90 L130.5 212.90 L132.5 212.90 L134.5 212.90 L136.5 212.91 L138.5 212.91 L140.5 212.92 L142.5 212.93 L143.0 212.93 L143.5 212.92 L144.0 212.88 L144.5 212.76 L145.0 212.45 L145.5 211.86 L146.0 211.04 L146.5 210.27 L147.0 209.95 L147.5 210.27 L148.0 211.05 L148.5 211.88 L149.0 212.47 L149.5 212.79 L150.0 212.92 L150.5 212.96 L151.0 212.97 L151.5 212.98 L152.0 212.98 L152.5 212.98 L153.0 212.99 L155.0 213.00 L157.0 213.02 L159.0 213.04 L161.0 213.06 L163.0 213.08 L165.0 213.10 L167.0 213.12 L169.0 213.14 L171.0 213.16 L173.0 213.19 L175.0 213.21 L177.0 213.24 L179.0 213.26 L181.0 213.29 L183.0 213.32 L185.0 213.34 L187.0 213.37 L189.0 213.40 L191.0 213.43 L193.0 213.46 L195.0 213.49 L195.5 213.49 L196.0 213.50 L196.5 213.51 L197.0 213.51 L197.5 213.52 L198.0 213.53 L198.5 213.54 L199.0 213.54 L199.5 213.55 L200.0 213.55 L200.5 213.54 L201.0 213.51 L201.5 213.41 L202.0 213.21 L202.5 212.91 L203.0 212.54 L203.5 212.23 L204.0 212.12 L204.5 212.25 L205.0 212.57 L205.5 212.95 L206.0 213.27 L206.5 213.48 L207.0 213.59 L207.5 213.65 L208.0 213.67 L208.5 213.68 L209.0 213.69 L209.5 213.70 L210.0 213.70 L210.5 213.71 L211.0 213.72 L211.5 213.73 L212.0 213.73 L212.5 213.74 L213.0 213.75 L213.5 213.75 L214.0 213.76 L216.0 213.79 L218.0 213.82 L220.0 213.84 L222.0 213.87 L224.0 213.90 L226.0 213.92 L228.0 213.95 L230.0 213.97 L232.0 214.00 L234.0 214.02 L236.0 214.05 L238.0 214.07 L240.0 214.09 L242.0 214.12 L244.0 214.14 L246.0 214.16 L248.0 214.18 L250.0 214.20 L252.0 214.22 L254.0 214.23 L256.0 214.25 L258.0 214.27 L260.0 214.29 L262.0 214.30 L264.0 214.32 L266.0 214.33 L268.0 214.35 L270.0 214.36 L272.0 214.37 L274.0 214.39 L276.0 214.40 L278.0 214.41 L280.0 214.42 L282.0 214.43 L284.0 214.44 L286.0 214.45 L288.0 214.46 L290.0 214.47 L292.0 214.48 L294.0 214.48 L296.0 214.49 L298.0 214.50 L300.0 214.51 L302.0 214.51 L304.0 214.52 L306.0 214.52 L308.0 214.53 L310.0 214.53 L312.0 214.54 L314.0 214.54 L316.0 214.55" stroke="#2a8480"/>
<path d="M38.5 219.36 L40.5 219.34 L42.5 219.32 L44.5 219.29 L46.5 219.27 L48.5 219.24 L50.5 219.21 L52.5 219.18 L54.5 219.16 L56.5 219.13 L58.5 219.10 L60.5 219.06 L62.5 219.03 L64.5 219.00 L66.5 218.97 L68.5 218.93 L70.5 218.90 L72.5 218.87 L74.5 218.83 L76.5 218.80 L78.5 218.76 L80.5 218.73 L82.5 218.70 L84.5 218.66 L86.5 218.63 L88.5 218.60 L90.5 218.56 L92.5 218.53 L94.5 218.50 L96.5 218.47 L98.5 218.44 L100.5 218.42 L102.5 218.39 L104.5 218.36 L106.5 218.34 L108.5 218.32 L110.5 218.30 L112.5 218.28 L114.5 218.26 L116.5 218.25 L118.5 218.23 L120.5 218.22 L122.5 218.21 L124.5 218.21 L126.5 218.20 L128.5 218.20 L130.5 218.20 L132.5 218.20 L134.5 218.20 L136.5 218.21 L138.5 218.21 L140.5 218.22 L142.5 218.22 L143.0 218.22 L143.5 218.22 L144.0 218.19 L144.5 218.08 L145.0 217.81 L145.5 217.30 L146.0 216.59 L146.5 215.92 L147.0 215.64 L147.5 215.92 L148.0 216.60 L148.5 217.31 L149.0 217.83 L149.5 218.10 L150.0 218.21 L150.5 218.25 L151.0 218.26 L151.5 218.27 L152.0 218.27 L152.5 218.27 L153.0 218.28 L155.0 218.29 L157.0 218.31 L159.0 218.32 L161.0 218.34 L163.0 218.35 L165.0 218.37 L167.0 218.39 L169.0 218.41 L171.0 218.43 L173.0 218.45 L175.0 218.47 L177.0 218.50 L179.0 218.52 L181.0 218.54 L183.0 218.57 L185.0 218.59 L187.0 218.62 L189.0 218.64 L191.0 218.67 L193.0 218.69 L195.0 218.72 L195.5 218.72 L196.0 218.73 L196.5 218.74 L197.0 218.74 L197.5 218.75 L198.0 218.76 L198.5 218.76 L199.0 218.77 L199.5 218.77 L200.0 218.78 L200.5 218.78 L201.0 218.76 L201.5 218.71 L202.0 218.61 L202.5 218.45 L203.0 218.25 L203.5 218.09 L204.0 218.03 L204.5 218.11 L205.0 218.28 L205.5 218.49 L206.0 218.66 L206.5 218.77 L207.0 218.84 L207.5 218.87 L208.0 218.88 L208.5 218.89 L209.0 218.90 L209.5 218.90 L210.0 218.91 L210.5 218.92 L211.0 218.92 L211.5 218.93 L212.0 218.93 L212.5 218.94 L213.0 218.95 L213.5 218.95 L214.0 218.96 L216.0 218.98 L218.0 219.01 L220.0 219.03 L222.0 219.06 L224.0 219.08 L226.0 219.10 L228.0 219.13 L230.0 219.15 L232.0 219.17 L234.0 219.19 L236.0 219.21 L238.0 219.23 L240.0 219.25 L242.0 219.27 L244.0 219.29 L246.0 219.31 L248.0 219.33 L250.0 219.34 L252.0 219.36 L254.0 219.38 L256.0 219.39 L258.0 219.41 L260.0 219.42 L262.0 219.44 L264.0 219.45 L266.0 219.46 L268.0 219.48 L270.0 219.49 L272.0 219.50 L274.0 219.51 L276.0 219.52 L278.0 219.53 L280.0 219.54 L282.0 219.55 L284.0 219.56 L286.0 219.57 L288.0 219.58 L290.0 219.58 L292.0 219.59 L294.0 219.60 L296.0 219.60 L298.0 219.61 L300.0 219.62 L302.0 219.62 L304.0 219.63 L306.0 219.63 L308.0 219.64 L310.0 219.64 L312.0 219.65 L314.0 219.65 L316.0 219.65" stroke="#3a4c98"/>
<path d="M38.5 225.26 L40.5 225.24 L42.5 225.22 L44.5 225.19 L46.5 225.17 L48.5 225.14 L50.5 225.11 L52.5 225.08 L54.5 225.06 L56.5 225.03 L58.5 225.00 L60.5 224.96 L62.5 224.93 L64.5 224.90 L66.5 224.87 L68.5 224.83 L70.5 224.80 L72.5 224.77 L74.5 224.73 L76.5 224.70 L78.5 224.66 L80.5 224.63 L82.5 224.60 L84.5 224.56 L86.5 224.53 L88.5 224.50 L90.5 224.46 L92.5 224.43 L94.5 224.40 L96.5 224.37 L98.5 224.34 L100.5 224.32 L102.5 224.29 L104.5 224.26 L106.5 224.24 L108.5 224.22 L110.5 224.20 L112.5 224.18 L114.5 224.16 L116.5 224.15 L118.5 224.13 L120.5 224.12 L122.5 224.11 L124.5 224.11 L126.5 224.10 L128.5 224.10 L130.5 224.10 L132.5 224.10 L134.5 224.10 L136.5 224.11 L138.5 224.11 L140.5 224.12 L142.5 224.12 L143.0 224.12 L143.5 224.12 L144.0 224.09 L144.5 223.99 L145.0 223.74 L145.5 223.27 L146.0 222.61 L146.5 222.00 L147.0 221.74 L147.5 222.00 L148.0 222.62 L148.5 223.29 L149.0 223.76 L149.5 224.01 L150.0 224.12 L150.5 224.15 L151.0 224.16 L151.5 224.17 L152.0 224.17 L152.5 224.17 L153.0 224.18 L155.0 224.19 L157.0 224.21 L159.0 224.22 L161.0 224.24 L163.0 224.25 L165.0 224.27 L167.0 224.29 L169.0 224.31 L171.0 224.33 L173.0 224.35 L175.0 224.37 L177.0 224.40 L179.0 224.42 L181.0 224.44 L183.0 224.47 L185.0 224.49 L187.0 224.52 L189.0 224.54 L191.0 224.57 L193.0 224.59 L195.0 224.62 L195.5 224.62 L196.0 224.63 L196.5 224.64 L197.0 224.64 L197.5 224.65 L198.0 224.66 L198.5 224.66 L199.0 224.67 L199.5 224.67 L200.0 224.68 L200.5 224.68 L201.0 224.67 L201.5 224.64 L202.0 224.58 L202.5 224.48 L203.0 224.37 L203.5 224.27 L204.0 224.23 L204.5 224.28 L205.0 224.39 L205.5 224.52 L206.0 224.63 L206.5 224.71 L207.0 224.75 L207.5 224.77 L208.0 224.78 L208.5 224.79 L209.0 224.80 L209.5 224.80 L210.0 224.81 L210.5 224.82 L211.0 224.82 L211.5 224.83 L212.0 224.83 L212.5 224.84 L213.0 224.85 L213.5 224.85 L214.0 224.86 L216.0 224.88 L218.0 224.91 L220.0 224.93 L222.0 224.96 L224.0 224.98 L226.0 225.00 L228.0 225.03 L230.0 225.05 L232.0 225.07 L234.0 225.09 L236.0 225.11 L238.0 225.13 L240.0 225.15 L242.0 225.17 L244.0 225.19 L246.0 225.21 L248.0 225.23 L250.0 225.24 L252.0 225.26 L254.0 225.28 L256.0 225.29 L258.0 225.31 L260.0 225.32 L262.0 225.34 L264.0 225.35 L266.0 225.36 L268.0 225.38 L270.0 225.39 L272.0 225.40 L274.0 225.41 L276.0 225.42 L278.0 225.43 L280.0 225.44 L282.0 225.45 L284.0 225.46 L286.0 225.47 L288.0 225.48 L290.0 225.48 L292.0 225.49 L294.0 225.50 L296.0 225.50 L298.0 225.51 L300.0 225.52 L302.0 225.52 L304.0 225.53 L306.0 225.53 L308.0 225.54 L310.0 225.54 L312.0 225.55 L314.0 225.55 L316.0 225.55" stroke="#c8402e"/>
<path d="M38.5 229.44 L40.5 229.41 L42.5 229.39 L44.5 229.36 L46.5 229.34 L48.5 229.31 L50.5 229.28 L52.5 229.25 L54.5 229.22 L56.5 229.19 L58.5 229.16 L60.5 229.12 L62.5 229.09 L64.5 229.05 L66.5 229.02 L68.5 228.98 L70.5 228.95 L72.5 228.91 L74.5 228.87 L76.5 228.84 L78.5 228.80 L80.5 228.76 L82.5 228.73 L84.5 228.69 L86.5 228.66 L88.5 228.62 L90.5 228.59 L92.5 228.55 L94.5 228.52 L96.5 228.49 L98.5 228.46 L100.5 228.43 L102.5 228.40 L104.5 228.37 L106.5 228.35 L108.5 228.33 L110.5 228.30 L112.5 228.28 L114.5 228.27 L116.5 228.25 L118.5 228.24 L120.5 228.23 L122.5 228.22 L124.5 228.21 L126.5 228.20 L128.5 228.20 L130.5 228.20 L132.5 228.20 L134.5 228.20 L136.5 228.21 L138.5 228.21 L140.5 228.22 L142.5 228.22 L143.0 228.23 L143.5 228.22 L144.0 228.20 L144.5 228.12 L145.0 227.91 L145.5 227.52 L146.0 226.97 L146.5 226.46 L147.0 226.25 L147.5 226.46 L148.0 226.98 L148.5 227.53 L149.0 227.93 L149.5 228.14 L150.0 228.23 L150.5 228.26 L151.0 228.27 L151.5 228.27 L152.0 228.28 L152.5 228.28 L153.0 228.28 L155.0 228.30 L157.0 228.31 L159.0 228.33 L161.0 228.35 L163.0 228.37 L165.0 228.38 L167.0 228.40 L169.0 228.43 L171.0 228.45 L173.0 228.47 L175.0 228.49 L177.0 228.52 L179.0 228.54 L181.0 228.57 L183.0 228.59 L185.0 228.62 L187.0 228.64 L189.0 228.67 L191.0 228.70 L193.0 228.72 L195.0 228.75 L195.5 228.76 L196.0 228.76 L196.5 228.77 L197.0 228.78 L197.5 228.79 L198.0 228.79 L198.5 228.80 L199.0 228.81 L199.5 228.81 L200.0 228.82 L200.5 228.82 L201.0 228.82 L201.5 228.81 L202.0 228.77 L202.5 228.72 L203.0 228.65 L203.5 228.59 L204.0 228.57 L204.5 228.61 L205.0 228.68 L205.5 228.76 L206.0 228.83 L206.5 228.87 L207.0 228.90 L207.5 228.92 L208.0 228.93 L208.5 228.94 L209.0 228.94 L209.5 228.95 L210.0 228.96 L210.5 228.96 L211.0 228.97 L211.5 228.98 L212.0 228.98 L212.5 228.99 L213.0 229.00 L213.5 229.00 L214.0 229.01 L216.0 229.04 L218.0 229.06 L220.0 229.09 L222.0 229.11 L224.0 229.14 L226.0 229.16 L228.0 229.19 L230.0 229.21 L232.0 229.23 L234.0 229.26 L236.0 229.28 L238.0 229.30 L240.0 229.32 L242.0 229.34 L244.0 229.36 L246.0 229.38 L248.0 229.40 L250.0 229.42 L252.0 229.44 L254.0 229.46 L256.0 229.47 L258.0 229.49 L260.0 229.50 L262.0 229.52 L264.0 229.53 L266.0 229.55 L268.0 229.56 L270.0 229.57 L272.0 229.59 L274.0 229.60 L276.0 229.61 L278.0 229.62 L280.0 229.63 L282.0 229.64 L284.0 229.65 L286.0 229.66 L288.0 229.67 L290.0 229.68 L292.0 229.68 L294.0 229.69 L296.0 229.70 L298.0 229.70 L300.0 229.71 L302.0 229.72 L304.0 229.72 L306.0 229.73 L308.0 229.73 L310.0 229.74 L312.0 229.74 L314.0 229.75 L316.0 229.75" stroke="#111111"/>
</g>
<path d="M38.5 27.3 H317.3 V230.9 H38.5" fill="none" stroke="#111" stroke-width="1.1"/>
<line x1="38.5" x2="38.5" y1="26.8" y2="231.4" stroke="#666" stroke-width="1.5"/>
<line x1="38.5" x2="43.0" y1="229.8" y2="229.8" stroke="#333" stroke-width="1"/>
<line x1="38.5" x2="41.5" y1="204.6" y2="204.6" stroke="#333" stroke-width="1"/>
<line x1="38.5" x2="43.0" y1="179.3" y2="179.3" stroke="#333" stroke-width="1"/>
<line x1="38.5" x2="41.5" y1="154.1" y2="154.1" stroke="#333" stroke-width="1"/>
<line x1="38.5" x2="43.0" y1="129.0" y2="129.0" stroke="#333" stroke-width="1"/>
<line x1="38.5" x2="41.5" y1="103.7" y2="103.7" stroke="#333" stroke-width="1"/>
<line x1="38.5" x2="43.0" y1="78.3" y2="78.3" stroke="#333" stroke-width="1"/>
<line x1="38.5" x2="41.5" y1="53.0" y2="53.0" stroke="#333" stroke-width="1"/>
<line x1="38.5" x2="38.5" y1="230.8" y2="226.8" stroke="#333" stroke-width="1"/>
<line x1="58.4" x2="58.4" y1="230.8" y2="228.3" stroke="#333" stroke-width="1"/>
<line x1="78.3" x2="78.3" y1="230.8" y2="226.8" stroke="#333" stroke-width="1"/>
<line x1="98.2" x2="98.2" y1="230.8" y2="228.3" stroke="#333" stroke-width="1"/>
<line x1="118.2" x2="118.2" y1="230.8" y2="226.8" stroke="#333" stroke-width="1"/>
<line x1="138.1" x2="138.1" y1="230.8" y2="228.3" stroke="#333" stroke-width="1"/>
<line x1="158.0" x2="158.0" y1="230.8" y2="226.8" stroke="#333" stroke-width="1"/>
<line x1="177.9" x2="177.9" y1="230.8" y2="228.3" stroke="#333" stroke-width="1"/>
<line x1="197.8" x2="197.8" y1="230.8" y2="226.8" stroke="#333" stroke-width="1"/>
<line x1="217.7" x2="217.7" y1="230.8" y2="228.3" stroke="#333" stroke-width="1"/>
<line x1="237.6" x2="237.6" y1="230.8" y2="226.8" stroke="#333" stroke-width="1"/>
<line x1="257.6" x2="257.6" y1="230.8" y2="228.3" stroke="#333" stroke-width="1"/>
<line x1="277.5" x2="277.5" y1="230.8" y2="226.8" stroke="#333" stroke-width="1"/>
<line x1="297.4" x2="297.4" y1="230.8" y2="228.3" stroke="#333" stroke-width="1"/>
<line x1="317.3" x2="317.3" y1="230.8" y2="226.8" stroke="#333" stroke-width="1"/>
<rect x="127.4" y="27.1" width="32.19999999999999" height="203.5" fill="none" stroke="#1f6a48" stroke-width="1.6"/>
<rect x="185" y="27.1" width="31.900000000000006" height="203.5" fill="none" stroke="#eaa03a" stroke-width="1.8"/>
<text x="119.1" y="19.7" font-size="14.6" letter-spacing="-0.2" fill="#206e48">Mode 1</text>
<text x="176.5" y="19.7" font-size="14.6" fill="#e89a30">Mode 2</text>
<text x="32.6" y="37.7" font-size="14.5" text-anchor="end">4</text>
<text x="32.6" y="82.9" font-size="14.5" text-anchor="end">3</text>
<text x="32.6" y="133.5" font-size="14.5" text-anchor="end">2</text>
<text x="32.6" y="183.9" font-size="14.5" text-anchor="end">1</text>
<text x="32.6" y="230.4" font-size="14.5" text-anchor="end">0</text>
<text x="38.5" y="248.8" font-size="14.5" text-anchor="middle">520</text>
<text x="78.3" y="248.8" font-size="14.5" text-anchor="middle">530</text>
<text x="118.2" y="248.8" font-size="14.5" text-anchor="middle">540</text>
<text x="158.0" y="248.8" font-size="14.5" text-anchor="middle">550</text>
<text x="197.8" y="248.8" font-size="14.5" text-anchor="middle">560</text>
<text x="237.6" y="248.8" font-size="14.5" text-anchor="middle">570</text>
<text x="277.5" y="248.8" font-size="14.5" text-anchor="middle">580</text>
<text x="317.3" y="248.8" font-size="14.5" text-anchor="middle">590</text>
<text x="177.5" y="270.3" font-size="14.5" text-anchor="middle">Wavelength (nm)</text>
<text transform="translate(11 129.3) rotate(-90)" font-size="14.5" text-anchor="middle">Intensity (a.u.)</text>
<rect x="264.5" y="25.9" width="52.3" height="207.3" fill="#fff" stroke="#111" stroke-width="1.1"/>
<line x1="317.3" x2="317.3" y1="27" y2="233" stroke="#111" stroke-width="1.2"/>
<line x1="264.5" x2="264.5" y1="25.9" y2="233.2" stroke="#6a6a6a" stroke-width="1.3"/>
<line x1="267" x2="285.3" y1="32.7" y2="32.7" stroke="#111111" stroke-width="1.8"/>
<text x="312.6" y="36.3" font-size="11.5" text-anchor="end">3.36</text>
<line x1="267" x2="285.3" y1="43.6" y2="43.6" stroke="#c8402e" stroke-width="1.8"/>
<text x="312.6" y="47.2" font-size="11.5" text-anchor="end">3.48</text>
<line x1="267" x2="285.3" y1="54.5" y2="54.5" stroke="#3a4c98" stroke-width="1.8"/>
<text x="312.6" y="58.1" font-size="11.5" text-anchor="end">3.67</text>
<line x1="267" x2="285.3" y1="65.4" y2="65.4" stroke="#a658bc" stroke-width="1.8"/>
<text x="312.6" y="69.0" font-size="11.5" text-anchor="end">3.80</text>
<line x1="267" x2="285.3" y1="76.3" y2="76.3" stroke="#2a8480" stroke-width="1.8"/>
<text x="312.6" y="79.9" font-size="11.5" text-anchor="end">3.99</text>
<line x1="267" x2="285.3" y1="87.2" y2="87.2" stroke="#808038" stroke-width="1.8"/>
<text x="312.6" y="90.8" font-size="11.5" text-anchor="end">4.12</text>
<line x1="267" x2="285.3" y1="98.1" y2="98.1" stroke="#6a2a32" stroke-width="1.8"/>
<text x="312.6" y="101.7" font-size="11.5" text-anchor="end">4.50</text>
<line x1="267" x2="285.3" y1="109.0" y2="109.0" stroke="#d03880" stroke-width="1.8"/>
<text x="312.6" y="112.6" font-size="11.5" text-anchor="end">4.75</text>
<line x1="267" x2="285.3" y1="119.9" y2="119.9" stroke="#2c7c3c" stroke-width="1.8"/>
<text x="312.6" y="123.5" font-size="11.5" text-anchor="end">5.07</text>
<line x1="267" x2="285.3" y1="130.8" y2="130.8" stroke="#e88a38" stroke-width="1.8"/>
<text x="312.6" y="134.4" font-size="11.5" text-anchor="end">4.88</text>
<line x1="267" x2="285.3" y1="141.7" y2="141.7" stroke="#d03880" stroke-width="1.8"/>
<text x="312.6" y="145.3" font-size="11.5" text-anchor="end">4.75</text>
<line x1="267" x2="285.3" y1="152.6" y2="152.6" stroke="#6a2a32" stroke-width="1.8"/>
<text x="312.6" y="156.2" font-size="11.5" text-anchor="end">4.50</text>
<line x1="267" x2="285.3" y1="163.5" y2="163.5" stroke="#2a3680" stroke-width="1.8"/>
<text x="312.6" y="167.1" font-size="11.5" text-anchor="end">4.31</text>
<line x1="267" x2="285.3" y1="174.4" y2="174.4" stroke="#808038" stroke-width="1.8"/>
<text x="312.6" y="178.0" font-size="11.5" text-anchor="end">4.12</text>
<line x1="267" x2="285.3" y1="185.3" y2="185.3" stroke="#a658bc" stroke-width="1.8"/>
<text x="312.6" y="188.9" font-size="11.5" text-anchor="end">3.99</text>
<line x1="267" x2="285.3" y1="196.2" y2="196.2" stroke="#2a8480" stroke-width="1.8"/>
<text x="312.6" y="199.8" font-size="11.5" text-anchor="end">3.80</text>
<line x1="267" x2="285.3" y1="207.1" y2="207.1" stroke="#3a4c98" stroke-width="1.8"/>
<text x="312.6" y="210.7" font-size="11.5" text-anchor="end">3.67</text>
<line x1="267" x2="285.3" y1="218.0" y2="218.0" stroke="#c8402e" stroke-width="1.8"/>
<text x="312.6" y="221.6" font-size="11.5" text-anchor="end">3.49</text>
<line x1="267" x2="285.3" y1="228.9" y2="228.9" stroke="#111111" stroke-width="1.8"/>
<text x="312.6" y="232.5" font-size="11.5" text-anchor="end">3.36</text>
<line x1="408.2" x2="674.8" y1="129.4" y2="129.4" stroke="#111" stroke-width="1.2"/>
<path d="M408.2 230.0 V28.4 H674.8 V230.0" fill="none" stroke="#111" stroke-width="1.2"/>
<line x1="408.2" x2="674.8" y1="230.0" y2="230.0" stroke="#555" stroke-width="1.3"/>
<line x1="408.2" x2="408.2" y1="28.4" y2="230.0" stroke="#777" stroke-width="1.5"/>
<line x1="408.2" x2="411.59999999999997" y1="215.4" y2="215.4" stroke="#555" stroke-width="1"/>
<line x1="408.2" x2="410.0" y1="201.1" y2="201.1" stroke="#555" stroke-width="1"/>
<line x1="408.2" x2="411.59999999999997" y1="186.7" y2="186.7" stroke="#555" stroke-width="1"/>
<line x1="408.2" x2="410.0" y1="172.4" y2="172.4" stroke="#555" stroke-width="1"/>
<line x1="408.2" x2="411.59999999999997" y1="158.1" y2="158.1" stroke="#555" stroke-width="1"/>
<line x1="408.2" x2="410.0" y1="143.7" y2="143.7" stroke="#555" stroke-width="1"/>
<line x1="408.2" x2="411.59999999999997" y1="129.4" y2="129.4" stroke="#555" stroke-width="1"/>
<line x1="408.2" x2="410.0" y1="114.9" y2="114.9" stroke="#555" stroke-width="1"/>
<line x1="408.2" x2="411.59999999999997" y1="100.4" y2="100.4" stroke="#555" stroke-width="1"/>
<line x1="408.2" x2="410.0" y1="85.9" y2="85.9" stroke="#555" stroke-width="1"/>
<line x1="408.2" x2="411.59999999999997" y1="71.4" y2="71.4" stroke="#555" stroke-width="1"/>
<line x1="408.2" x2="410.0" y1="56.9" y2="56.9" stroke="#555" stroke-width="1"/>
<line x1="408.2" x2="411.59999999999997" y1="42.4" y2="42.4" stroke="#555" stroke-width="1"/>
<line x1="415.4" x2="415.4" y1="230.0" y2="228.0" stroke="#555" stroke-width="1"/>
<line x1="445.9" x2="445.9" y1="230.0" y2="226.4" stroke="#555" stroke-width="1"/>
<line x1="476.4" x2="476.4" y1="230.0" y2="228.0" stroke="#555" stroke-width="1"/>
<line x1="506.9" x2="506.9" y1="230.0" y2="226.4" stroke="#555" stroke-width="1"/>
<line x1="537.4" x2="537.4" y1="230.0" y2="228.0" stroke="#555" stroke-width="1"/>
<line x1="568.0" x2="568.0" y1="230.0" y2="226.4" stroke="#555" stroke-width="1"/>
<line x1="598.5" x2="598.5" y1="230.0" y2="228.0" stroke="#555" stroke-width="1"/>
<line x1="629.0" x2="629.0" y1="230.0" y2="226.4" stroke="#555" stroke-width="1"/>
<line x1="659.5" x2="659.5" y1="230.0" y2="228.0" stroke="#555" stroke-width="1"/>
<text x="401.0" y="47.1" font-size="14" text-anchor="end">15</text>
<text x="401.0" y="76.1" font-size="14" text-anchor="end">10</text>
<text x="401.0" y="105.1" font-size="14" text-anchor="end">5</text>
<text x="401.0" y="134.1" font-size="14" text-anchor="end">0</text>
<text x="401.0" y="162.8" font-size="14" text-anchor="end">−5</text>
<text x="401.0" y="191.4" font-size="14" text-anchor="end">−10</text>
<text x="401.0" y="220.1" font-size="14" text-anchor="end">−15</text>
<text x="415.6" y="246.6" font-size="14" text-anchor="middle">3.5</text>
<text x="476.6" y="246.6" font-size="14" text-anchor="middle">4.5</text>
<text x="537.6" y="246.6" font-size="14" text-anchor="middle">5.5</text>
<text x="598.7" y="246.6" font-size="14" text-anchor="middle">4.5</text>
<text x="659.7" y="246.6" font-size="14" text-anchor="middle">3.5</text>
<text x="541.5" y="272" font-size="14.5" text-anchor="middle">Pumping density (μJ cm<tspan dy="-5" font-size="10">−2</tspan><tspan dy="5">)</tspan></text>
<text transform="translate(363.8 129.2) rotate(-90)" font-size="14.5" text-anchor="middle">Extinction ratio (dB)</text>
<g fill="none" stroke="#347838" stroke-width="1.7">
<circle cx="418.1" cy="46.3" r="3.9"/>
<circle cx="428.5" cy="65.05" r="3.9"/>
<circle cx="439" cy="95.8" r="3.9"/>
<circle cx="449.1" cy="114.6" r="3.9"/>
<circle cx="634.2" cy="109.8" r="3.9"/>
<circle cx="644.5" cy="92.9" r="3.9"/>
<circle cx="654.9" cy="65.9" r="3.9"/>
<circle cx="665.1" cy="45.3" r="3.9"/>
</g><g fill="none" stroke="#e2803a" stroke-width="1.7">
<rect x="456.0" y="134.0" width="7" height="7"/>
<rect x="466.5" y="156.5" width="7" height="7"/>
<rect x="476.8" y="165.1" width="7" height="7"/>
<rect x="486.5" y="180.9" width="7" height="7"/>
<rect x="497.1" y="188.7" width="7" height="7"/>
<rect x="507.4" y="208.0" width="7" height="7"/>
<rect x="517.6" y="212.6" width="7" height="7"/>
<rect x="548.8" y="212.4" width="7" height="7"/>
<rect x="569.1" y="190.5" width="7" height="7"/>
<rect x="579.3" y="170.2" width="7" height="7"/>
<rect x="600.0" y="151.1" width="7" height="7"/>
<rect x="620.5" y="134.5" width="7" height="7"/>
</g>
<circle cx="511.2" cy="46.6" r="3.6" fill="none" stroke="#347838" stroke-width="1.7"/>
<rect x="507.9" y="61.4" width="6.8" height="6.8" fill="none" stroke="#e2803a" stroke-width="1.7"/>
<text x="521.2" y="50.3" font-size="12.5" fill="#4caa55">Mode 1</text>
<text x="521.2" y="68.5" font-size="12.5" fill="#f0a040">Mode 2</text>
</g></svg>
</body></html>
